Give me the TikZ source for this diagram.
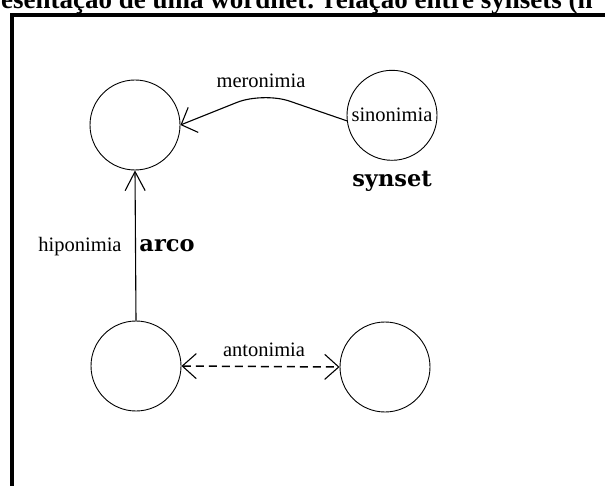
\documentclass[tikz,border=0pt]{standalone}
\usepackage{fontspec}
\setmainfont{Liberation Serif}
\newfontfamily\wideserif{DejaVu Serif}
\usetikzlibrary{arrows.meta}
\tikzstyle{synset}=[draw=black,circle,minimum size=90pt,inner sep=0pt,line width=0.9pt]
\tikzstyle{label}=[inner sep=0pt,anchor=base,font=\fontsize{20.5}{24}\selectfont]
\tikzstyle{boldlabel}=[inner sep=0pt,anchor=base,font=\wideserif\bfseries\fontsize{22.5}{26}\selectfont]
\tikzstyle{relation}=[line width=1.1pt]

\begin{document}
\begin{tikzpicture}[x=1pt,y=-1pt]
  \useasboundingbox (0,0) rectangle (605,486);
  \clip (0,0) rectangle (605,486);
  % titulo cortado e moldura
  \node[inner sep=0pt,anchor=base west,font=\bfseries\fontsize{27}{30}\selectfont]
    (titulo) at (1,9) {esentação de uma wordnet: relação entre synsets (n};
  \draw[line width=4pt] (12,520) -- (12,15.3) -- (640,15.3);

  % synsets
  \node[synset] (holo) at (135,125) {};
  \node[synset,label] (sino) at (392,122) {sinonimia};
  \node[synset] (hipo) at (136,366) {};
  \node[synset] (anto) at (385,367) {};

  % arcos
  \coordinate (topo) at (263,92);
  \draw[relation,rounded corners=28pt,-{Straight Barb[length=13pt,width=27pt]}]
    (sino.187) -- (topo) -- (holo.east);
  \draw[relation,-{Straight Barb[length=19pt,width=20pt]}] (hipo.north) -- (holo.south);
  \draw[relation,line width=1.5pt,dash pattern=on 8pt off 5pt,
    {Straight Barb[length=14pt,width=25pt,line width=1.1pt]}-{Straight Barb[length=14pt,width=25pt,line width=1.1pt]}]
    (hipo.east) -- (anto.west);

  % rotulos
  \node[label] (lmero) at (261,88) {meronimia};
  \node[label] (lhipo) at (80,252) {hiponimia};
  \node[label] (lanto) at (264,356) {antonimia};
  \node[boldlabel] (lsyn) at (392,187) {synset};
  \node[boldlabel] (larco) at (167,252) {arco};
\end{tikzpicture}
\end{document}
